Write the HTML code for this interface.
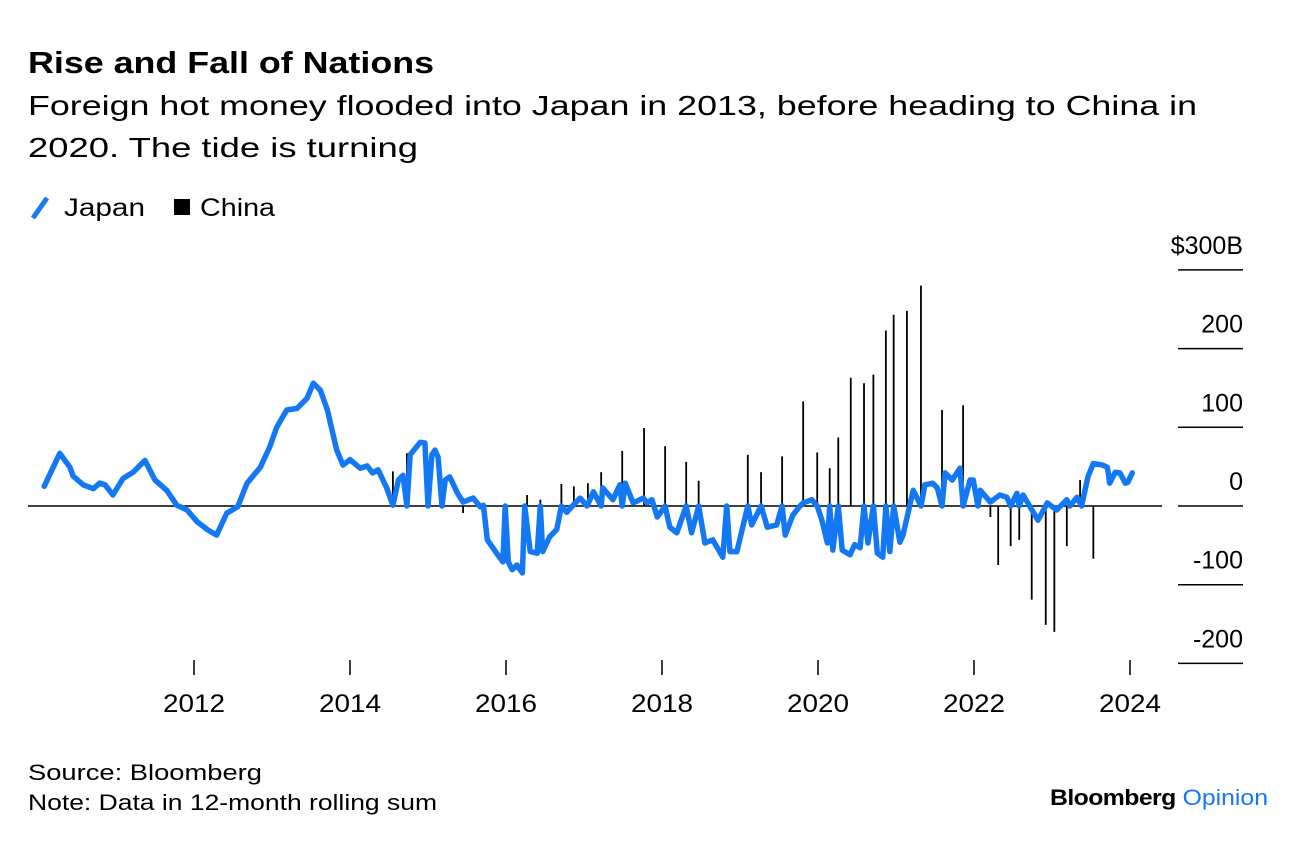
<!DOCTYPE html>
<html><head><meta charset="utf-8"><style>
body{margin:0;background:#fff;width:1296px;height:840px;overflow:hidden;font-family:"Liberation Sans",sans-serif;color:#000}
</style></head><body>
<svg id="chart" width="1296" height="840" xmlns="http://www.w3.org/2000/svg">
<text x="28" y="73" font-size="31" font-weight="bold" textLength="406" lengthAdjust="spacingAndGlyphs">Rise and Fall of Nations</text>
<text x="28" y="115" font-size="28" textLength="1169" lengthAdjust="spacingAndGlyphs">Foreign hot money flooded into Japan in 2013, before heading to China in</text>
<text x="28" y="157" font-size="28" textLength="390" lengthAdjust="spacingAndGlyphs">2020. The tide is turning</text>
<g>
<line x1="33" y1="218" x2="47" y2="198" stroke="#1478f5" stroke-width="5"/>
<text x="64" y="216" font-size="25" textLength="81" lengthAdjust="spacingAndGlyphs">Japan</text>
<rect x="174" y="199" width="16" height="16" fill="#000"/>
<text x="200" y="216" font-size="25" textLength="75" lengthAdjust="spacingAndGlyphs">China</text>
</g>
<g id="yaxis"></g>
<g id="xaxis"></g>
<g id="bars"></g>
<line x1="28" y1="506" x2="1162" y2="506" stroke="#000" stroke-width="1.5"/>
<path id="jline" fill="none" stroke="#1478f5" stroke-width="5.5" stroke-linejoin="round" stroke-linecap="round"/>
<text x="28" y="780" font-size="22" textLength="234" lengthAdjust="spacingAndGlyphs">Source: Bloomberg</text>
<text x="28" y="810" font-size="22" textLength="409" lengthAdjust="spacingAndGlyphs">Note: Data in 12-month rolling sum</text>
<text x="1050" y="805" font-size="22" textLength="218" lengthAdjust="spacingAndGlyphs" font-weight="bold"><tspan fill="#000" letter-spacing="-0.5">Bloomberg</tspan><tspan fill="#1478f5" font-weight="normal"> Opinion</tspan></text>
</svg>
<script>
const yTicks=[300,200,100,0,-100,-200];
const yTickLabels=["$300B","200","100","0","-100","-200"];
const xTicks=[2012,2014,2016,2018,2020,2022,2024];
const chinaDates=[2014.55,2014.73,2015.45,2016.27,2016.44,2016.71,2016.87,2017.05,2017.22,2017.49,2017.77,2018.04,2018.31,2018.47,2019.10,2019.27,2019.54,2019.81,2019.99,2020.15,2020.26,2020.42,2020.59,2020.71,2020.87,2020.97,2021.14,2021.32,2021.59,2021.86,2022.21,2022.31,2022.47,2022.58,2022.74,2022.92,2023.03,2023.19,2023.36,2023.53];
const chinaValues=[44,67,-9,14,8,28,25,29,43,70,99,76,56,32,65,43,63,133,68,48,87,163,156,167,223,243,248,280,122,128,-14,-75,-51,-43,-119,-151,-160,-51,33,-67];
const japanDates=[2010.08,2010.28,2010.41,2010.45,2010.58,2010.71,2010.79,2010.86,2010.96,2011.09,2011.22,2011.37,2011.50,2011.65,2011.78,2011.91,2012.04,2012.17,2012.29,2012.42,2012.56,2012.68,2012.85,2012.97,2013.06,2013.19,2013.32,2013.45,2013.53,2013.62,2013.71,2013.83,2013.91,2014.00,2014.13,2014.22,2014.29,2014.36,2014.47,2014.55,2014.62,2014.68,2014.73,2014.77,2014.90,2014.96,2015.00,2015.05,2015.09,2015.13,2015.18,2015.22,2015.28,2015.38,2015.45,2015.58,2015.67,2015.71,2015.76,2015.88,2015.96,2015.99,2016.03,2016.08,2016.14,2016.21,2016.24,2016.31,2016.40,2016.44,2016.47,2016.56,2016.65,2016.71,2016.78,2016.85,2016.95,2017.04,2017.12,2017.22,2017.24,2017.37,2017.46,2017.49,2017.53,2017.63,2017.76,2017.81,2017.87,2017.94,2018.04,2018.10,2018.19,2018.31,2018.38,2018.47,2018.55,2018.65,2018.78,2018.83,2018.87,2018.96,2019.10,2019.15,2019.27,2019.35,2019.47,2019.54,2019.58,2019.68,2019.77,2019.81,2019.92,2019.99,2020.05,2020.12,2020.15,2020.19,2020.26,2020.31,2020.41,2020.47,2020.54,2020.59,2020.64,2020.71,2020.76,2020.83,2020.87,2020.92,2020.97,2021.05,2021.09,2021.22,2021.32,2021.37,2021.47,2021.53,2021.59,2021.63,2021.72,2021.82,2021.86,2021.95,2021.99,2022.05,2022.08,2022.21,2022.33,2022.42,2022.47,2022.55,2022.58,2022.63,2022.82,2022.94,2023.06,2023.19,2023.23,2023.32,2023.38,2023.46,2023.53,2023.65,2023.71,2023.74,2023.81,2023.87,2023.94,2023.97,2024.03];
const japanValues=[25,67,49,38,27,22,29,27,14,35,43,58,33,20,1,-5,-20,-30,-37,-9,-1,29,49,75,100,122,124,137,156,147,122,71,52,59,48,51,42,46,23,1,33,39,0,65,81,80,0,65,71,62,0,33,37,16,5,10,-1,1,-43,-60,-71,0,-71,-81,-75,-85,0,-58,-60,0,-58,-39,-30,0,-8,0,10,0,18,0,23,8,27,0,29,4,10,4,8,-14,0,-27,-34,0,-34,0,-47,-43,-65,0,-58,-58,0,-24,0,-27,-24,0,-37,-11,0,4,8,0,-18,-47,0,-56,0,-56,-62,-49,-53,0,-47,0,-60,-65,0,-58,0,-46,-37,20,0,27,29,23,0,42,33,48,0,33,33,0,20,5,14,11,0,16,0,14,-18,4,-5,8,0,11,0,37,54,52,49,29,43,42,29,30,42];

const NS='http://www.w3.org/2000/svg';
const xS=y=>194+(y-2012)*78;
const yS=v=>506-v*0.787;
const ya=document.getElementById('yaxis');
yTicks.forEach((t,i)=>{
  const y=yS(t);
  const l=document.createElementNS(NS,'line');
  l.setAttribute('x1',1178);l.setAttribute('x2',1243);l.setAttribute('y1',y);l.setAttribute('y2',y);
  l.setAttribute('stroke','#000');l.setAttribute('stroke-width','1.5');
  
  
  ya.appendChild(l);
  const tx=document.createElementNS(NS,'text');
  tx.setAttribute('x',1243);tx.setAttribute('y',y-16);tx.setAttribute('text-anchor','end');tx.setAttribute('font-size','25');
  tx.textContent=yTickLabels[i];
  
  
  ya.appendChild(tx);
});
const xa=document.getElementById('xaxis');
xTicks.forEach(t=>{
  const x=xS(t);
  const l=document.createElementNS(NS,'line');
  l.setAttribute('x1',x);l.setAttribute('x2',x);l.setAttribute('y1',660);l.setAttribute('y2',675);
  l.setAttribute('stroke','#000');l.setAttribute('stroke-width','1.5');
  
  
  xa.appendChild(l);
  const tx=document.createElementNS(NS,'text');
  tx.setAttribute('x',x);tx.setAttribute('y',712);tx.setAttribute('text-anchor','middle');tx.setAttribute('font-size','25');
  tx.setAttribute('textLength','62');tx.setAttribute('lengthAdjust','spacingAndGlyphs');
  tx.textContent=t;
  
  
  xa.appendChild(tx);
});
const bg=document.getElementById('bars');
chinaDates.forEach((d,i)=>{
  const l=document.createElementNS(NS,'line');
  const x=xS(d);
  l.setAttribute('x1',x);l.setAttribute('x2',x);l.setAttribute('y1',yS(0));l.setAttribute('y2',yS(chinaValues[i]));
  l.setAttribute('stroke','#000');l.setAttribute('stroke-width','1.8');
  
  
  bg.appendChild(l);
});
document.getElementById('jline').setAttribute('d',japanDates.map((d,i)=>(i?'L':'M')+xS(d).toFixed(1)+','+yS(japanValues[i]).toFixed(1)).join(''));
</script>
</body></html>
